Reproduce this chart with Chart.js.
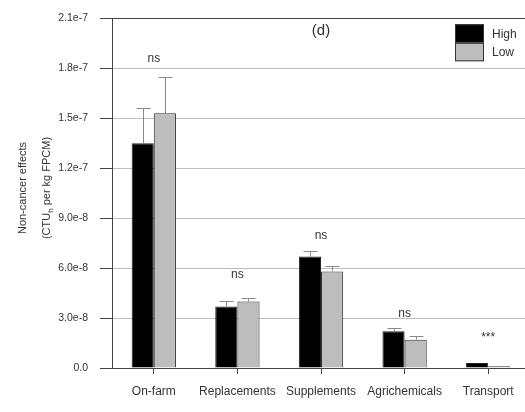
<!DOCTYPE html>
<html><head><meta charset="utf-8">
<script src="https://cdn.jsdelivr.net/npm/chart.js@4/dist/chart.umd.min.js"></script>
<style>html,body{margin:0;padding:0;background:#fff;overflow:hidden}#wrap{width:530px;height:412px;position:relative}</style>
</head><body><div id="wrap"><canvas id="c"></canvas></div>
<script>
const categories = ['On-farm','Replacements','Supplements','Agrichemicals','Transport'];
const seriesNames = ['High','Low'];
const highValues = [1.35e-7, 3.7e-8, 6.7e-8, 2.2e-8, 3.0e-9];
const highErrors = [2.1e-8, 3.0e-9, 3.0e-9, 2.2e-9, 0];
const lowValues  = [1.53e-7, 4.0e-8, 5.8e-8, 1.7e-8, 1.0e-9];
const lowErrors  = [2.2e-8, 1.8e-9, 3.2e-9, 2.4e-9, 0];
const sigLabels = ['ns','ns','ns','ns','***'];
const sigPositions = [1.86e-7, 5.6e-8, 7.95e-8, 3.25e-8, 1.8e-8];
const yTickValues = [0, 3e-8, 6e-8, 9e-8, 1.2e-7, 1.5e-7, 1.8e-7, 2.1e-7];
const yTickLabels = ['0.0','3.0e-8','6.0e-8','9.0e-8','1.2e-7','1.5e-7','1.8e-7','2.1e-7'];
const panelTitle = '(d)';
const yTitleLine1 = 'Non-cancer effects';
const yTitleLine2 = ['(CTU', 'h', ' per kg FPCM)'];

const FONT = '"Liberation Sans", Arial, sans-serif';
const TEXT = '#333';
const errorSets = [highErrors, lowErrors];

const decor = {
  id: 'decor',
  afterDatasetsDraw(chart) {
    const ctx = chart.ctx, ca = chart.chartArea;
    const xs = chart.scales.x, ys = chart.scales.y;
    ctx.save();
    ctx.strokeStyle = '#444'; ctx.lineWidth = 1;
    ctx.beginPath(); ctx.moveTo(ca.left, Math.round(ca.top) + 0.5); ctx.lineTo(ca.right, Math.round(ca.top) + 0.5); ctx.stroke();
    ctx.strokeStyle = '#8a8a8a';
    chart.data.datasets.forEach((ds, i) => {
      const meta = chart.getDatasetMeta(i);
      meta.data.forEach((el, j) => {
        const err = errorSets[i][j];
        if (!err) return;
        const x = Math.round(el.x) + 0.5;
        const yt = Math.round(ys.getPixelForValue(ds.data[j] + err)) + 0.5;
        ctx.beginPath();
        ctx.moveTo(x, el.y); ctx.lineTo(x, yt);
        ctx.moveTo(x - 7, yt); ctx.lineTo(x + 7, yt);
        ctx.stroke();
      });
    });
    ctx.fillStyle = TEXT; ctx.textAlign = 'center'; ctx.textBaseline = 'middle';
    ctx.font = '12px ' + FONT;
    sigLabels.forEach((s, j) => {
      ctx.fillText(s, xs.getPixelForValue(j), ys.getPixelForValue(sigPositions[j]));
    });
    ctx.font = '15px ' + FONT;
    ctx.fillText(panelTitle, (ca.left + ca.right) / 2, 31);
    const lx = ca.right - 75, ly = ca.top + 6, bw = 29, bh = 18.5;
    chart.data.datasets.forEach((ds, i) => {
      ctx.fillStyle = ds.backgroundColor;
      ctx.fillRect(lx, ly + i * bh, bw, bh);
      ctx.strokeStyle = '#333';
      ctx.strokeRect(lx + 0.5, ly + i * bh + 0.5, bw - 1, bh - 1);
      ctx.fillStyle = TEXT; ctx.textAlign = 'left'; ctx.font = '12px ' + FONT;
      ctx.fillText(ds.label, lx + bw + 8, ly + i * bh + bh / 2 + 1);
    });
    const cy = 188;
    ctx.save();
    ctx.translate(23, cy); ctx.rotate(-Math.PI / 2);
    ctx.font = '11px ' + FONT; ctx.textAlign = 'center'; ctx.textBaseline = 'middle';
    ctx.fillText(yTitleLine1, 0, 0);
    ctx.restore();
    ctx.save();
    ctx.translate(47, cy); ctx.rotate(-Math.PI / 2);
    ctx.textBaseline = 'middle'; ctx.textAlign = 'left';
    ctx.font = '11px ' + FONT;
    const w1 = ctx.measureText(yTitleLine2[0]).width;
    const w3 = ctx.measureText(yTitleLine2[2]).width;
    ctx.font = '8px ' + FONT;
    const w2 = ctx.measureText(yTitleLine2[1]).width;
    let x0 = -(w1 + w2 + w3) / 2;
    ctx.font = '11px ' + FONT;
    ctx.fillText(yTitleLine2[0], x0, 0);
    ctx.font = '8px ' + FONT;
    ctx.fillText(yTitleLine2[1], x0 + w1, 4);
    ctx.font = '11px ' + FONT;
    ctx.fillText(yTitleLine2[2], x0 + w1 + w2, 0);
    ctx.restore();
    ctx.restore();
  }
};

new Chart(document.getElementById('c'), {
  type: 'bar',
  data: {
    labels: categories,
    datasets: [
      { label: seriesNames[0], data: highValues, backgroundColor: '#000000', borderColor: '#222', borderWidth: 1 },
      { label: seriesNames[1], data: lowValues, backgroundColor: '#bdbdbd', borderColor: '#333', borderWidth: 1 }
    ]
  },
  options: {
    responsive: true,
    maintainAspectRatio: false,
    animation: false,
    layout: { padding: { top: 11, right: 0, bottom: 0, left: 0 } },
    datasets: { bar: { categoryPercentage: 0.53, barPercentage: 1.0 } },
    plugins: { legend: { display: false }, tooltip: { enabled: false } },
    scales: {
      x: {
        grid: { display: true, drawOnChartArea: false, tickLength: 6, color: '#444', offset: false },
        border: { display: true, color: '#444', width: 1 },
        ticks: { color: TEXT, font: { family: FONT, size: 12 }, padding: 10, maxRotation: 0, autoSkip: false },
        afterFit(s) { s.height = 44; }
      },
      y: {
        min: 0, max: 2.1e-7,
        afterBuildTicks(s) { s.ticks = yTickValues.map(v => ({ value: v })); },
        grid: { color: '#bdbdbd', borderDash: [2, 2], tickLength: 12, tickColor: '#444', tickBorderDash: [] },
        border: { display: true, color: '#444', width: 1 },
        ticks: {
          color: TEXT, font: { family: FONT, size: 10.5 }, padding: 12,
          callback(v, i) { return yTickLabels[i]; }
        },
        afterFit(s) { s.width = 112; }
      }
    }
  },
  plugins: [decor]
});
</script>
</body></html>
